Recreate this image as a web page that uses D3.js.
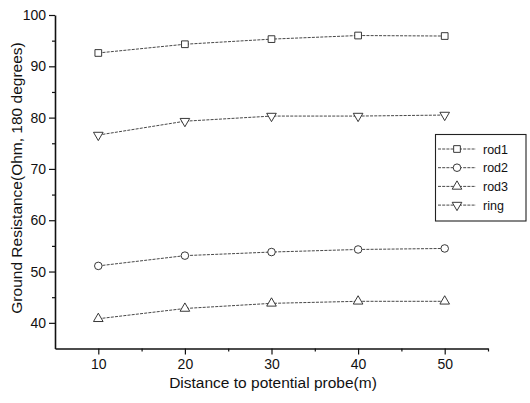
<!DOCTYPE html>
<html><head><meta charset="utf-8">
<script src="https://cdn.jsdelivr.net/npm/d3@7"></script>
<style>body{margin:0;background:#fff;} svg{display:block;} text{font-family:"Liberation Sans",Arial,sans-serif;fill:#111;}</style>
</head><body>
<script>
const distances = [10, 20, 30, 40, 50];
const rod1 = [92.6, 94.3, 95.3, 96.0, 95.9];
const rod2 = [51.1, 53.1, 53.8, 54.3, 54.5];
const rod3 = [40.8, 42.8, 43.8, 44.2, 44.2];
const ring = [76.6, 79.3, 80.3, 80.3, 80.5];
const seriesNames = ["rod1", "rod2", "rod3", "ring"];
const seriesValues = [rod1, rod2, rod3, ring];
const markerTypes = [d3.symbolSquare, d3.symbolCircle, d3.symbolTriangle, d3.symbolTriangle];
const xTicks = [10, 20, 30, 40, 50];
const xMinor = [15, 25, 35, 45, 55];
const yTicks = [40, 50, 60, 70, 80, 90, 100];
const yMinor = [45, 55, 65, 75, 85, 95];

const W = 530, H = 403;
const svg = d3.select("body").append("svg").attr("width", W).attr("height", H);
const x = d3.scaleLinear().domain([5, 55]).range([55, 488]);
const y = d3.scaleLinear().domain([35, 100]).range([348.5, 15]);

// axes
const xAxis = d3.axisBottom(x).tickValues(xTicks).tickSize(6).tickSizeOuter(0).tickPadding(5).tickFormat(d3.format("d"));
const gx = svg.append("g").attr("transform", `translate(0,${y(35)})`).call(xAxis);
gx.selectAll(".tick line").attr("stroke", "#111").attr("stroke-width", 1.2);
gx.selectAll(".tick text").attr("font-size", 14).attr("fill", "#111");
gx.select(".domain").attr("stroke", "#111").attr("stroke-width", 1.6);
svg.append("g").attr("transform", `translate(0,${y(35)})`)
  .call(d3.axisBottom(x).tickValues(xMinor).tickSize(3).tickSizeOuter(0).tickFormat(""))
  .call(g => { g.select(".domain").remove(); g.selectAll("line").attr("stroke", "#111").attr("stroke-width", 1.2); });

const yAxis = d3.axisLeft(y).tickValues(yTicks).tickSize(6).tickSizeOuter(0).tickPadding(3).tickFormat(d3.format("d"));
const gy = svg.append("g").attr("transform", `translate(${x(5)},0)`).call(yAxis);
gy.selectAll(".tick line").attr("stroke", "#111").attr("stroke-width", 1.2);
gy.selectAll(".tick text").attr("font-size", 14).attr("fill", "#111");
gy.select(".domain").attr("stroke", "#111").attr("stroke-width", 1.6);
svg.append("g").attr("transform", `translate(${x(5)},0)`)
  .call(d3.axisLeft(y).tickValues(yMinor).tickSize(3).tickSizeOuter(0).tickFormat(""))
  .call(g => { g.select(".domain").remove(); g.selectAll("line").attr("stroke", "#111").attr("stroke-width", 1.2); });

// axis titles
svg.append("text").attr("x", 273).attr("y", 388).attr("text-anchor", "middle")
  .attr("font-size", 15.5).text("Distance to potential probe(m)");
svg.append("text").attr("transform", "translate(22,178) rotate(-90)").attr("text-anchor", "middle")
  .attr("font-size", 15.5).text("Ground Resistance(Ohm, 180 degrees)");

const line = d3.line().x((d, i) => x(distances[i])).y(d => y(d));
function drawMarker(g, type, idx, cx, cy) {
  const size = idx === 1 ? 45 : (idx === 0 ? 45 : 40);
  return g.append("path").attr("d", d3.symbol().type(type).size(size)())
    .attr("transform", `translate(${cx},${cy})` + (idx === 3 ? " rotate(180)" : ""))
    .attr("fill", "#fff").attr("stroke", "#222").attr("stroke-width", 0.9);
}
seriesValues.forEach((vals, si) => {
  const g = svg.append("g");
  g.append("path").datum(vals).attr("d", line).attr("fill", "none")
    .attr("stroke", "#333").attr("stroke-width", 0.9).attr("stroke-dasharray", "3,1.2");
  vals.forEach((v, i) => drawMarker(g, markerTypes[si], si, x(distances[i]), y(v)));
});

// legend
const lg = svg.append("g");
lg.append("rect").attr("x", 435.5).attr("y", 134.5).attr("width", 90.5).attr("height", 86.5)
  .attr("fill", "#fff").attr("stroke", "#222").attr("stroke-width", 1.1);
seriesNames.forEach((name, si) => {
  const ly = 149 + si * 18.7;
  lg.append("line").attr("x1", 438).attr("x2", 476).attr("y1", ly).attr("y2", ly)
    .attr("stroke", "#333").attr("stroke-width", 0.9).attr("stroke-dasharray", "3,1.2");
  drawMarker(lg, markerTypes[si], si, 457, ly);
  lg.append("text").attr("x", 483).attr("y", ly + 4.5).attr("font-size", 12.5).text(name);
});
</script>
</body></html>
